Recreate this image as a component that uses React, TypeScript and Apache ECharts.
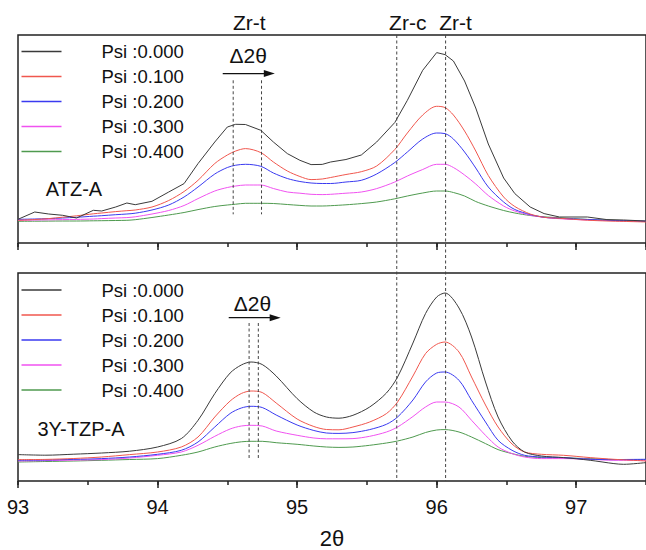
import React, { useEffect, useRef } from "react";
import * as echarts from "echarts";

// ---------- Top panel (ATZ-A) ----------
const topX = [93.0, 93.12, 93.22, 93.32, 93.42, 93.54, 93.6, 93.7, 93.78, 93.84, 93.96, 94.08, 94.19, 94.29, 94.41, 94.5, 94.56, 94.63, 94.74, 94.83, 94.93, 95.02, 95.1, 95.18, 95.24, 95.35, 95.46, 95.57, 95.7, 95.79, 95.9, 96.0, 96.06, 96.12, 96.2, 96.28, 96.37, 96.48, 96.56, 96.67, 96.77, 96.88, 97.08, 97.22, 97.34, 97.5];
const atzPsi000 = [23.7, 31, 29, 27.7, 25, 32.7, 32, 36, 40, 38.3, 41.7, 51, 59.4, 79.4, 101, 116, 118.7, 118.5, 112.7, 101, 89.4, 82.7, 78.4, 78.6, 81, 83.5, 88, 101, 120.5, 142.7, 172.7, 190.4, 188.4, 182, 162, 135, 99, 65, 49.4, 36, 29.4, 26, 26, 23.4, 23, 22];
const atzPsi100 = [22.7, 23.5, 24.4, 25.8, 27.2, 29.2, 30, 31.4, 32.3, 33, 36, 42.5, 51.5, 62.7, 79.5, 88, 92, 94.4, 90.4, 81, 72, 66.5, 63.4, 64, 65.5, 68.5, 71.3, 77, 93.5, 110, 128, 136.7, 135.4, 128, 112, 92, 67.5, 46, 36.5, 29, 25.7, 24.7, 22.8, 22, 21.6, 21];
const atzPsi200 = [23.7, 24, 24.4, 25, 25.7, 26.8, 27.3, 28.3, 29, 29.8, 33, 38, 46, 56, 69, 75.5, 77.8, 78.7, 76.7, 70, 64.5, 61.5, 60, 59.5, 59.5, 61, 62.7, 69, 80.5, 91, 104, 110, 109.4, 104, 91, 75, 56, 41, 33.5, 28.5, 25.7, 24.7, 23.5, 22.7, 22.2, 21.7];
const atzPsi300 = [22.7, 23, 23.2, 23.4, 23.6, 24, 24.4, 25, 25.4, 26.2, 29, 32.5, 37.5, 44.4, 52, 55.5, 57, 58, 58, 54.5, 51, 49.8, 48.7, 48.4, 48.7, 49.8, 51, 54.4, 61, 67, 73.5, 78.7, 78.7, 75.5, 68, 59, 47.5, 37, 32, 27.8, 25.7, 24.3, 23, 22.5, 22, 21.7];
const atzPsi400 = [21.7, 21.8, 21.9, 22, 22, 22.2, 22.3, 22.5, 22.7, 23.3, 25.5, 28, 30.5, 33.4, 36.5, 38, 38.8, 39.7, 39.7, 39.5, 38.5, 37.6, 37, 37, 37.3, 38.2, 39.4, 41, 44.2, 47, 50, 52, 52, 50.5, 47, 41.5, 37, 32.5, 30, 27.5, 26.2, 25.2, 23.6, 23, 22.4, 21.7];

// ---------- Bottom panel (3Y-TZP-A) ----------
const bottomX = [93.0, 93.2, 93.4, 93.6, 93.8, 94.0, 94.17, 94.29, 94.41, 94.52, 94.6, 94.67, 94.75, 94.85, 95.0, 95.12, 95.21, 95.3, 95.4, 95.52, 95.64, 95.72, 95.83, 95.92, 96.0, 96.06, 96.16, 96.25, 96.35, 96.44, 96.54, 96.63, 96.75, 96.91, 97.1, 97.27, 97.34, 97.5];
const tzpPsi000 = [26.4, 25.8, 26.8, 28, 29.8, 34, 42.4, 60.7, 87.4, 108, 116, 119, 116.5, 105, 82.4, 69, 64, 62.8, 65.7, 74, 88, 104, 138, 167.4, 184, 188, 173, 144, 99, 64, 40, 29, 25, 23.4, 20.7, 17.4, 16.7, 18.4];
const tzpPsi100 = [21.4, 21.6, 22.5, 24, 26.4, 29, 34, 44, 64, 80, 87.5, 90, 88.5, 78, 62, 54.5, 51.5, 51.2, 54, 59, 67.4, 79, 105, 127.4, 136.7, 139, 129, 104, 76, 54, 37, 29, 26.7, 25.7, 23.4, 21.7, 21.2, 20];
const tzpPsi200 = [20.7, 21, 21.6, 22.4, 24, 26.7, 30.7, 39, 54, 67.5, 73, 74.7, 73.5, 66, 56, 50.5, 48, 47.6, 48.4, 51.4, 56.7, 64, 81, 99, 108, 109, 100.7, 80.7, 59, 40.7, 30.7, 25.7, 24, 23.4, 21.7, 21.4, 21.5, 21.7];
const tzpPsi300 = [20, 20.4, 20.9, 21.4, 23, 25.7, 29, 35.7, 44.7, 52, 55, 55.7, 55, 50, 45.7, 43, 42.2, 42.2, 42.4, 44.7, 49, 54, 64.5, 74, 79, 79, 74, 60.7, 45.7, 34, 27.4, 24, 22.4, 22.4, 21.7, 20.7, 20.7, 20.7];
const tzpPsi400 = [19, 19.5, 20, 20.7, 21.5, 22.4, 25.7, 29, 34, 37.5, 39.2, 39.7, 39.7, 38.3, 36.7, 35, 34, 33.6, 34, 35.7, 38, 40, 44, 48.5, 51, 51.4, 49, 44, 37.4, 31.4, 27.4, 24.7, 23.4, 23, 22.4, 21.4, 21.4, 21.4];

const seriesNames = ["Psi :0.000", "Psi :0.100", "Psi :0.200", "Psi :0.300", "Psi :0.400"];
const seriesColors = ["#3a3a3a", "#f0574e", "#3a3af0", "#f052f0", "#4f9a4f"];
const xTickLabels = [93, 94, 95, 96, 97];

// annotation positions (in 2θ)
const zrCubic = 95.714;
const zrTetragonal = 96.064;
const atzShift = [94.542, 94.745];
const tzpShift = [94.656, 94.722];

const FONT = "'Liberation Sans', Arial, Helvetica, sans-serif";

export default function App() {
  const ref = useRef<HTMLDivElement>(null);

  useEffect(() => {
    if (!ref.current) return;
    const chart = echarts.init(ref.current, undefined, { renderer: "svg" });

    const topSets = [atzPsi000, atzPsi100, atzPsi200, atzPsi300, atzPsi400];
    const botSets = [tzpPsi000, tzpPsi100, tzpPsi200, tzpPsi300, tzpPsi400];

    const series: any[] = [];
    topSets.forEach((ys, i) => {
      series.push({
        type: "line",
        name: seriesNames[i],
        xAxisIndex: 0,
        yAxisIndex: 0,
        data: topX.map((x, k) => [x, ys[k]]),
        showSymbol: false,
        smooth: i === 0 ? false : 0.3,
        lineStyle: { color: seriesColors[i], width: 1 },
        itemStyle: { color: seriesColors[i] },
        z: 10 - i,
      });
    });
    botSets.forEach((ys, i) => {
      series.push({
        type: "line",
        name: seriesNames[i],
        xAxisIndex: 2,
        yAxisIndex: 1,
        data: bottomX.map((x, k) => [x, ys[k]]),
        showSymbol: false,
        smooth: 0.3,
        lineStyle: { color: seriesColors[i], width: 1 },
        itemStyle: { color: seriesColors[i] },
        z: 10 - i,
      });
    });

    const gridCommon = {
      left: 18,
      width: 634.5,
      height: 208,
      show: true,
      borderColor: "#222",
      borderWidth: 1.5,
      backgroundColor: "transparent",
    };

    const majorAxis = (gridIndex: number, labels: boolean) => ({
      type: "value",
      gridIndex,
      position: "bottom",
      min: 93,
      max: 97.5,
      interval: 1,
      axisLine: { show: false },
      axisTick: { show: true, inside: false, length: 7, lineStyle: { color: "#222", width: 1.5 } },
      splitLine: { show: false },
      axisLabel: {
        show: labels,
        showMaxLabel: false,
        margin: 16,
        fontSize: 20,
        fontFamily: FONT,
        color: "#111",
        formatter: (v: number) => (xTickLabels.includes(v) ? String(v) : ""),
      },
      ...(labels
        ? {
            name: "2θ",
            nameLocation: "middle",
            nameGap: 46,
            nameTextStyle: { fontSize: 22, fontFamily: FONT, color: "#111" },
          }
        : {}),
    });
    const minorAxis = (gridIndex: number) => ({
      type: "value",
      gridIndex,
      position: "bottom",
      min: 93,
      max: 97.5,
      interval: 0.5,
      axisLine: { show: false },
      axisTick: { show: true, inside: false, length: 4, lineStyle: { color: "#222", width: 1.5 } },
      splitLine: { show: false },
      axisLabel: { show: false },
    });

    const legendCommon = {
      orient: "vertical",
      left: 21.5,
      padding: 0,
      itemWidth: 40,
      itemHeight: 1.5,
      itemGap: 5,
      icon: "rect",
      selectedMode: false,
      textStyle: {
        fontSize: 18.5,
        fontFamily: FONT,
        color: "#111",
        lineHeight: 20,
        padding: [0, 0, 0, 35],
      },
      data: seriesNames,
    };

    chart.setOption({
      animation: false,
      backgroundColor: "#fff",
      textStyle: { fontFamily: FONT },
      grid: [
        { ...gridCommon, top: 35 },
        { ...gridCommon, top: 273 },
      ],
      xAxis: [majorAxis(0, false), minorAxis(0), majorAxis(1, true), minorAxis(1)],
      yAxis: [
        { type: "value", gridIndex: 0, min: 0, max: 208, show: false },
        { type: "value", gridIndex: 1, min: 0, max: 208, show: false },
      ],
      legend: [
        { ...legendCommon, top: 41.5 },
        { ...legendCommon, top: 280 },
      ],
      series,
    });

    const px = (g: number, x: number, y: number) =>
      chart.convertToPixel({ gridIndex: g } as any, [x, y]) as number[];

    const dash = { stroke: "#444", lineWidth: 1, lineDash: [3, 2.5] };
    const g: any[] = [];
    const vline = (gx0: number, x: number, y0: number, gx1: number, y1: number) => {
      const a = px(gx0, x, y0);
      const b = px(gx1, x, y1);
      g.push({ type: "line", shape: { x1: a[0], y1: a[1], x2: b[0], y2: b[1] }, style: dash, z: 50 });
    };
    // long phase lines through both panels
    vline(0, zrCubic, 208, 1, 0);
    vline(0, zrTetragonal, 208, 1, 0);
    // peak shift lines
    atzShift.forEach((x) => vline(0, x, 162.7, 0, 28.7));
    tzpShift.forEach((x) => vline(1, x, 158, 1, 22.7));

    const arrow = (gi: number, x0: number, x1: number, y: number) => {
      const a = px(gi, x0, y);
      const b = px(gi, x1, y);
      g.push({ type: "line", shape: { x1: a[0], y1: a[1], x2: b[0] - 6, y2: b[1] }, style: { stroke: "#111", lineWidth: 1.3 }, z: 50 });
      g.push({
        type: "polygon",
        shape: { points: [[b[0] - 10, b[1] - 3.5], [b[0] + 1, b[1]], [b[0] - 10, b[1] + 3.5]] },
        style: { fill: "#111" },
        z: 50,
      });
    };
    arrow(0, 94.467, 94.833, 169.4);
    arrow(1, 94.51, 94.875, 163.3);

    const text = (t: string, x: number, y: number, size: number) =>
      g.push({
        type: "text",
        x,
        y,
        z: 60,
        style: { text: t, fontSize: size, fontFamily: FONT, fill: "#111", align: "center", verticalAlign: "middle" },
      });

    const tTop = px(0, (atzShift[0] + atzShift[1]) / 2, 208);
    text("Zr-t", tTop[0] + 2, 22, 21);
    const cTop = px(0, zrCubic, 208);
    text("Zr-c", cTop[0] + 11, 22, 21);
    const rTop = px(0, zrTetragonal, 208);
    text("Zr-t", rTop[0] + 10, 22, 21);

    const d1 = px(0, 94.65, 187.7);
    text("Δ2θ", d1[0], d1[1], 21);
    const d2 = px(1, 94.68, 177.7);
    text("Δ2θ", d2[0], d2[1], 21);

    text("ATZ-A", 74, 189, 20);
    text("3Y-TZP-A", 81, 429, 20);

    chart.setOption({ graphic: g });

    return () => chart.dispose();
  }, []);

  return (
    <div
      ref={ref}
      style={{ position: "absolute", left: 0, top: 0, width: 646, height: 550, overflow: "hidden" }}
    />
  );
}
